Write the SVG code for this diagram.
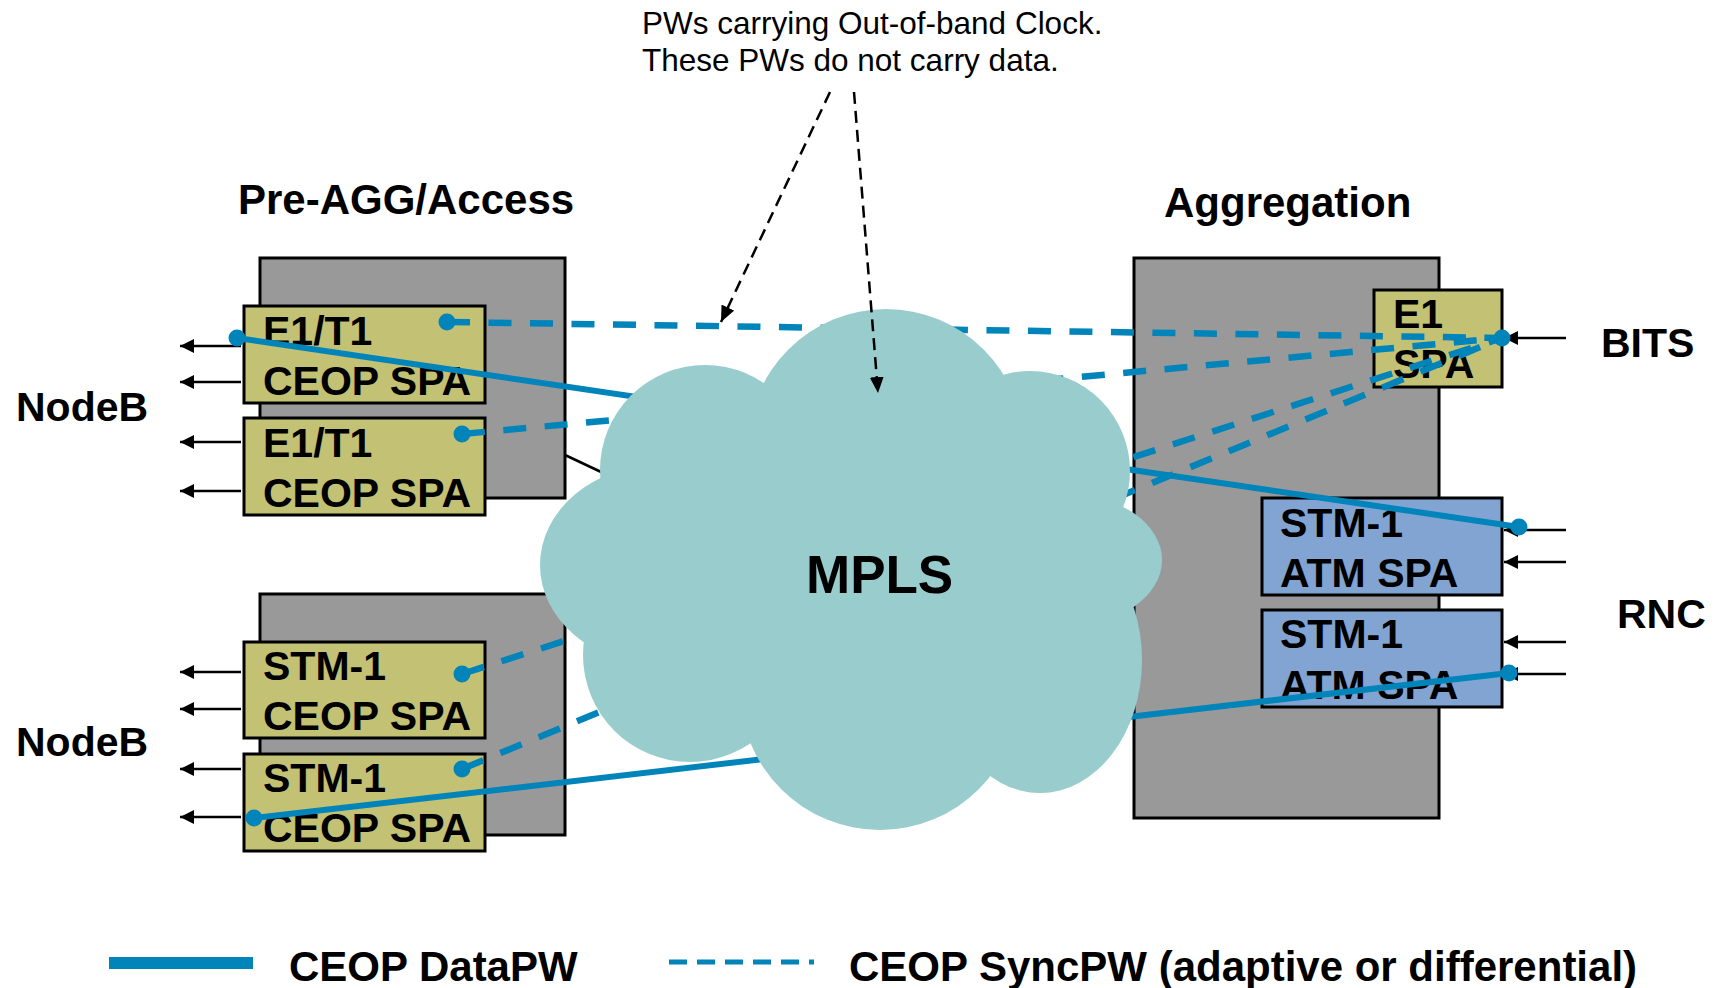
<svg xmlns="http://www.w3.org/2000/svg" width="1720" height="988" viewBox="0 0 1720 988">
<defs>
<marker id="ah" viewBox="0 0 14 14" refX="14" refY="7" markerWidth="14" markerHeight="14" markerUnits="userSpaceOnUse" orient="auto">
<path d="M0,0 L14,7 L0,14 Z" fill="#000"/>
</marker>
<marker id="ah2" viewBox="0 0 16 14" refX="16" refY="7" markerWidth="16" markerHeight="14" markerUnits="userSpaceOnUse" orient="auto">
<path d="M0,0 L16,7 L0,14 Z" fill="#000"/>
</marker>
</defs>
<style>
.box{fill:#999999;stroke:#000;stroke-width:3}
.spa{fill:#C3C173;stroke:#000;stroke-width:3}
.atm{fill:#82A4D2;stroke:#000;stroke-width:3}
.lbl{font-family:"Liberation Sans",Arial,sans-serif;font-weight:bold;font-size:41px;fill:#000}
.ttl{font-family:"Liberation Sans",Arial,sans-serif;font-weight:bold;font-size:42px;fill:#000}
.note{font-family:"Liberation Sans",Arial,sans-serif;font-size:31.5px;fill:#000}
.io{stroke:#000;stroke-width:2.5;fill:none;marker-end:url(#ah)}
.data{stroke:#0084B9;stroke-width:6;fill:none}
.sync{stroke:#0084B9;stroke-width:6.5;fill:none;stroke-dasharray:23 18.5}
.dot{fill:#0084B9}
.ann{stroke:#000;stroke-width:2.5;fill:none;stroke-dasharray:12 7;marker-end:url(#ah2)}
.cloud{fill:#99CCCC}
</style>
<rect width="1720" height="988" fill="#fff"/>

<g id="title-preagg"><text class="ttl" x="238" y="214">Pre-AGG/Access</text></g>
<g id="title-agg"><text class="ttl" x="1164" y="217">Aggregation</text></g>

<g id="preagg-top"><rect class="box" x="260" y="258" width="305" height="240"/></g>
<g id="preagg-bottom"><rect class="box" x="260" y="594" width="305" height="241"/></g>
<g id="aggregation"><rect class="box" x="1134" y="258" width="305" height="560"/></g>

<g id="spa-e1t1-1"><rect class="spa" x="244" y="306" width="241" height="97"/><text class="lbl" x="263" y="345">E1/T1</text><text class="lbl" x="263" y="395">CEOP SPA</text></g>
<g id="spa-e1t1-2"><rect class="spa" x="244" y="418" width="241" height="97"/><text class="lbl" x="263" y="457">E1/T1</text><text class="lbl" x="263" y="507">CEOP SPA</text></g>
<g id="spa-stm1-1"><rect class="spa" x="244" y="642" width="241" height="96"/><text class="lbl" x="263" y="680">STM-1</text><text class="lbl" x="263" y="730">CEOP SPA</text></g>
<g id="spa-stm1-2"><rect class="spa" x="244" y="754" width="241" height="97"/><text class="lbl" x="263" y="792">STM-1</text><text class="lbl" x="263" y="842">CEOP SPA</text></g>
<g id="spa-e1"><rect class="spa" x="1374" y="290" width="128" height="97"/><text class="lbl" x="1393" y="328">E1</text><text class="lbl" x="1393" y="378">SPA</text></g>
<g id="spa-atm-1"><rect class="atm" x="1262" y="498" width="240" height="97"/><text class="lbl" x="1280" y="537">STM-1</text><text class="lbl" x="1280" y="587">ATM SPA</text></g>
<g id="spa-atm-2"><rect class="atm" x="1262" y="610" width="240" height="97"/><text class="lbl" x="1280" y="648">STM-1</text><text class="lbl" x="1280" y="699">ATM SPA</text></g>

<g id="nodeb-1"><text class="lbl" x="16" y="421">NodeB</text></g>
<g id="nodeb-2"><text class="lbl" x="16" y="756">NodeB</text></g>
<g id="bits"><text class="lbl" x="1601" y="357">BITS</text></g>
<g id="rnc"><text class="lbl" x="1617" y="628">RNC</text></g>

<g id="connectors">
<line class="io" x1="241" y1="346" x2="180" y2="346"/>
<line class="io" x1="241" y1="382" x2="180" y2="382"/>
<line class="io" x1="241" y1="442" x2="180" y2="442"/>
<line class="io" x1="241" y1="491" x2="180" y2="491"/>
<line class="io" x1="241" y1="672" x2="180" y2="672"/>
<line class="io" x1="241" y1="709" x2="180" y2="709"/>
<line class="io" x1="241" y1="769" x2="180" y2="769"/>
<line class="io" x1="241" y1="817" x2="180" y2="817"/>
<line class="io" x1="1566" y1="338" x2="1504" y2="338"/>
<line class="io" x1="1566" y1="530" x2="1504" y2="530"/>
<line class="io" x1="1566" y1="562" x2="1504" y2="562"/>
<line class="io" x1="1566" y1="642" x2="1504" y2="642"/>
<line class="io" x1="1566" y1="674" x2="1504" y2="674"/>
<line x1="565" y1="455" x2="650" y2="495" stroke="#000" stroke-width="2.5"/>
<line class="sync" x1="447" y1="322" x2="1502" y2="338"/>
<line class="sync" x1="462" y1="434" x2="1502" y2="338"/>
<line class="sync" x1="462" y1="674" x2="1502" y2="338"/>
<line class="sync" x1="462" y1="769" x2="1502" y2="338"/>
<line class="data" x1="237" y1="338" x2="1519" y2="527"/>
<line class="data" x1="254" y1="818" x2="1509" y2="673"/>
<circle class="dot" cx="237" cy="338" r="8.5"/>
<circle class="dot" cx="447" cy="322" r="8.5"/>
<circle class="dot" cx="462" cy="434" r="8.5"/>
<circle class="dot" cx="462" cy="674" r="8.5"/>
<circle class="dot" cx="462" cy="769" r="8.5"/>
<circle class="dot" cx="254" cy="818" r="8.5"/>
<circle class="dot" cx="1502" cy="338" r="8.5"/>
<circle class="dot" cx="1519" cy="527" r="8.5"/>
<circle class="dot" cx="1509" cy="673" r="8.5"/>
</g>

<g id="mpls-cloud">
<ellipse class="cloud" cx="850" cy="570" rx="240" ry="190"/>
<circle class="cloud" cx="886" cy="447" r="138"/>
<circle class="cloud" cx="705" cy="470" r="105"/>
<ellipse class="cloud" cx="660" cy="565" rx="120" ry="100"/>
<circle class="cloud" cx="690" cy="655" r="107"/>
<circle class="cloud" cx="880" cy="690" r="140"/>
<ellipse class="cloud" cx="1040" cy="660" rx="102" ry="133"/>
<ellipse class="cloud" cx="1070" cy="560" rx="92" ry="65"/>
<circle class="cloud" cx="1030" cy="471" r="100"/>
<text x="806" y="593" font-family="'Liberation Sans',Arial,sans-serif" font-weight="bold" font-size="53">MPLS</text>
</g>

<g id="annotation">
<text class="note" x="642" y="34">PWs carrying Out-of-band Clock.</text>
<text class="note" x="642" y="71">These PWs do not carry data.</text>
<line class="ann" x1="830" y1="92" x2="721" y2="322"/>
<line class="ann" x1="854" y1="92" x2="878" y2="393"/>
</g>

<g id="legend">
<line x1="109" y1="963" x2="253" y2="963" stroke="#0084B9" stroke-width="12"/>
<text class="ttl" x="289" y="981">CEOP DataPW</text>
<line x1="669" y1="962" x2="814" y2="962" stroke="#0084B9" stroke-width="5" stroke-dasharray="18 10"/>
<text class="ttl" x="849" y="981">CEOP SyncPW (adaptive or differential)</text>
</g>
</svg>
